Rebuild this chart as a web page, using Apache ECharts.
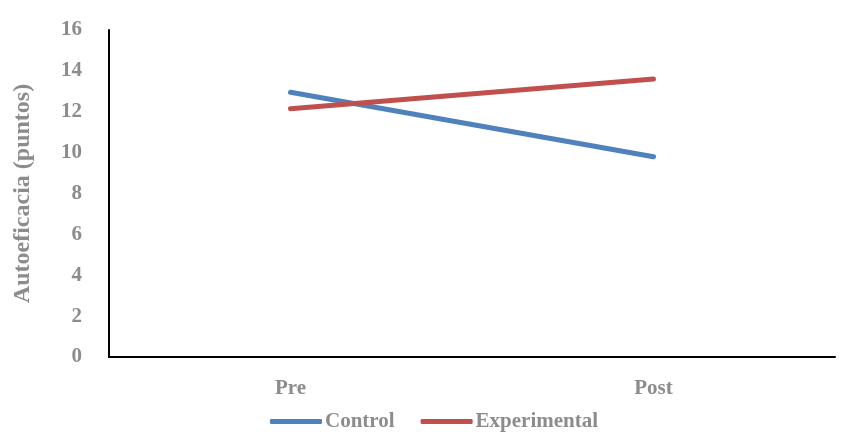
<!DOCTYPE html>
<html>
<head>
<meta charset="utf-8">
<script src="https://cdn.jsdelivr.net/npm/echarts@6/dist/echarts.min.js"></script>
<style>html,body{margin:0;padding:0;background:#fff;}#c{width:844px;height:442px;}</style>
</head>
<body>
<div id="c"></div>
<script>
var categories = ['Pre', 'Post'];
var controlValues = [12.95, 9.8];
var experimentalValues = [12.15, 13.6];
var yTicks = [0, 2, 4, 6, 8, 10, 12, 14, 16];

var font = '"Liberation Serif", "Times New Roman", serif';
var gray = '#8c8c8c';
var chart = echarts.init(document.getElementById('c'));
chart.setOption({
  animation: false,
  grid: { left: 109, right: 9, top: 30, bottom: 85 },
  legend: {
    top: 411, left: 270, itemWidth: 52, itemHeight: 5, itemGap: 26,
    icon: 'roundRect', padding: 0,
    textStyle: { fontFamily: font, fontWeight: 'bold', fontSize: 21, color: gray, padding: [0,0,0,-2] },
    data: ['Control', 'Experimental']
  },
  xAxis: {
    type: 'category', data: categories, boundaryGap: true,
    axisLine: { lineStyle: { color: '#000', width: 2 } },
    axisTick: { show: false },
    axisLabel: { fontFamily: font, fontWeight: 'bold', fontSize: 21, color: gray, margin: 21 }
  },
  yAxis: {
    type: 'value', min: yTicks[0], max: yTicks[yTicks.length-1], interval: 2,
    name: 'Autoeficacia (puntos)', nameLocation: 'middle', nameGap: 74,
    nameTextStyle: { fontFamily: font, fontWeight: 'bold', fontSize: 24, color: gray },
    axisLine: { show: true, lineStyle: { color: '#000', width: 2 } },
    axisTick: { show: false },
    splitLine: { show: false },
    axisLabel: { fontFamily: font, fontWeight: 'bold', fontSize: 21, color: gray, margin: 27 }
  },
  series: [
    { name: 'Control', type: 'line', data: controlValues, symbol: 'none',
      lineStyle: { color: '#4F81BD', width: 5, cap: 'round' }, itemStyle: { color: '#4F81BD' } },
    { name: 'Experimental', type: 'line', data: experimentalValues, symbol: 'none',
      lineStyle: { color: '#C0504D', width: 5, cap: 'round' }, itemStyle: { color: '#C0504D' } }
  ]
});
</script>
</body>
</html>
